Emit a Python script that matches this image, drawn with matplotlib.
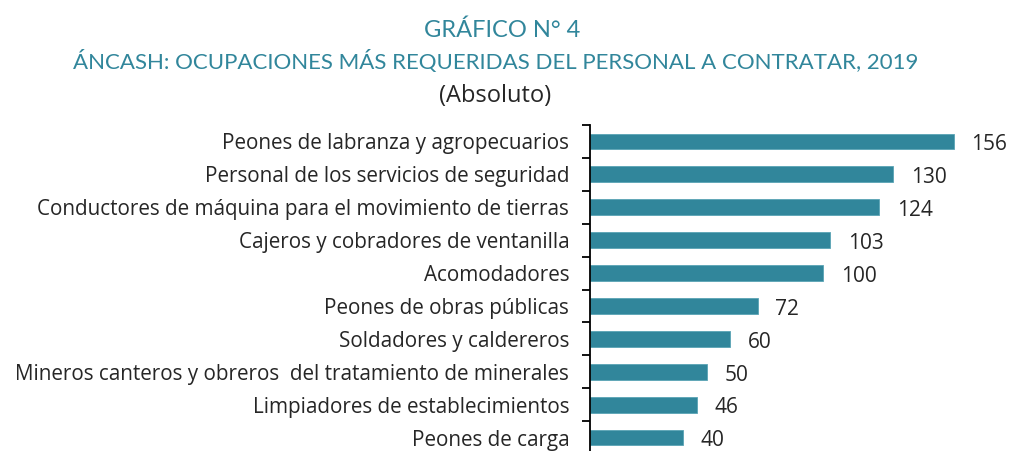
import matplotlib
matplotlib.use("Agg")
import matplotlib.pyplot as plt
import numpy as np

categories = [
    "Peones de labranza y agropecuarios",
    "Personal de los servicios de seguridad",
    "Conductores de máquina para el movimiento de tierras",
    "Cajeros y cobradores de ventanilla",
    "Acomodadores",
    "Peones de obras públicas",
    "Soldadores y caldereros",
    "Mineros canteros y obreros  del tratamiento de minerales",
    "Limpiadores de establecimientos",
    "Peones de carga",
]
values = [156, 130, 124, 103, 100, 72, 60, 50, 46, 40]

title1 = "GRÁFICO N° 4"
title2 = "ÁNCASH: OCUPACIONES MÁS REQUERIDAS DEL PERSONAL A CONTRATAR, 2019"
subtitle = "(Absoluto)"

teal = "#31869B"
font_t = "Lato"
font = "Open Sans"
W, H = 1010, 451
fig = plt.figure(figsize=(W / 100, H / 100), dpi=100)

ax_left = 590 / W
ax_right = 1010 / W
ax_top = 1 - 125 / H
ax_bot = 1 - 454 / H
ax = fig.add_axes([ax_left, ax_bot, ax_right - ax_left, ax_top - ax_bot])

y = np.arange(len(categories))
ax.barh(y, values, height=0.48, color=teal, edgecolor="#5aa3b5", linewidth=0.6)
ax.set_ylim(len(categories) - 0.5, -0.5)
ax.set_xlim(0, 180)

for yi, v in zip(y, values):
    ax.text(v + 7.5, yi + 0.1, str(v), va="center", ha="left",
            fontsize=15, family=font, color="#262626")

ax.set_yticks(y)
ax.set_yticklabels(categories, fontsize=14.9, family=font, color="#262626")
ax.set_yticks(np.arange(-0.5, len(categories), 1), minor=True)
ax.tick_params(axis="y", which="major", length=0, pad=15)
ax.tick_params(axis="y", which="minor", length=6, width=1.3, direction="out", color="black")
ax.set_xticks([])
for s in ["top", "right", "bottom"]:
    ax.spines[s].set_visible(False)
ax.spines["left"].set_linewidth(1.3)

fig.text(502 / W, 1 - 30 / H, title1, ha="center", va="center",
         fontsize=17, family=font_t, color=teal)
fig.text(496 / W, 1 - 62 / H, title2, ha="center", va="center",
         fontsize=16, family=font_t, color=teal)
fig.text(495 / W, 1 - 96 / H, subtitle, ha="center", va="center",
         fontsize=17, family=font, color="#262626")

fig.savefig("out.png", dpi=100)
